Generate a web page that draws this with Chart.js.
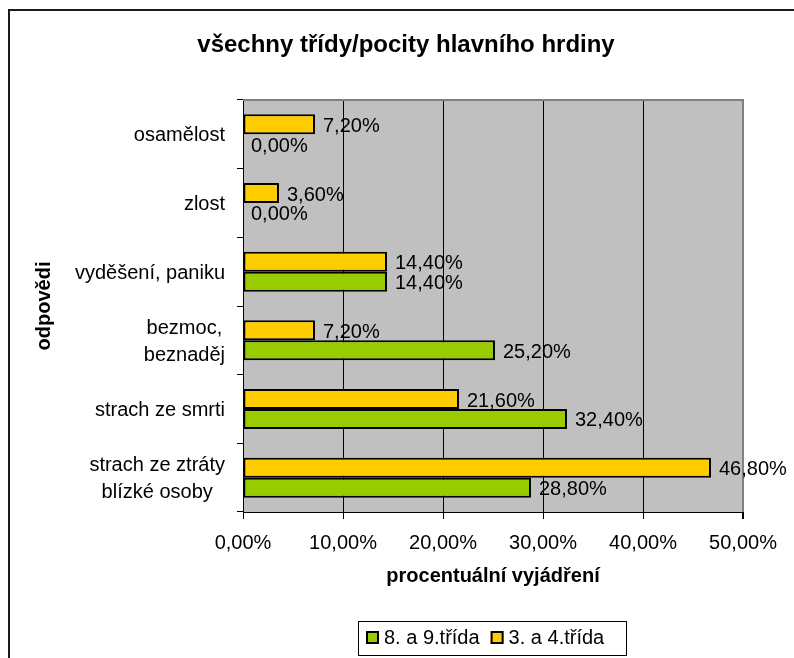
<!DOCTYPE html>
<html>
<head>
<meta charset="utf-8">
<script src="https://cdn.jsdelivr.net/npm/chart.js@4"></script>
<style>
    body { margin: 0; background: #fff; }
    canvas { display: block; }
</style>
</head>
<body>
<canvas id="chart" width="794" height="658"></canvas>
<script>
// data
const categories = [
    ['osamělost'],
    ['zlost'],
    ['vyděšení, paniku'],
    ['bezmoc,', 'beznaděj'],
    ['strach ze smrti'],
    ['strach ze ztráty', 'blízké osoby']
];
const seriesNames = ['3. a 4.třída', '8. a 9.třída'];
const grade34 = [7.2, 3.6, 14.4, 7.2, 21.6, 46.8];
const grade89 = [0, 0, 14.4, 25.2, 32.4, 28.8];
const xTickValues = [0, 10, 20, 30, 40, 50];

const chartTitle = 'všechny třídy/pocity hlavního hrdiny';
const xTitle = 'procentuální vyjádření';
const yTitle = 'odpovědi';

const FONT = "'Liberation Sans', Arial, sans-serif";

// 7.2 -> "7,20%"
function formatPct(v) {
    return v.toFixed(2).replace('.', ',') + '%';
}

// gray plot area + frame + titles
const decorPlugin = {
    id: 'decor',
    beforeDraw(chart) {
        const ctx = chart.ctx;
        const a = chart.chartArea;
        ctx.save();
        ctx.fillStyle = '#C0C0C0';
        ctx.fillRect(a.left, a.top, a.right - a.left, a.bottom - a.top);

        // outer frame (only left and top are visible)
        ctx.strokeStyle = '#1a1a1a';
        ctx.lineWidth = 2;
        ctx.beginPath();
        ctx.moveTo(9, 658);
        ctx.lineTo(9, 10);
        ctx.lineTo(794, 10);
        ctx.stroke();
        ctx.restore();
    },
    beforeDatasetsDraw(chart) {
        const ctx = chart.ctx;
        const a = chart.chartArea;
        ctx.save();
        ctx.strokeStyle = '#808080';
        ctx.lineWidth = 2;
        ctx.beginPath();
        ctx.moveTo(a.left, a.top);
        ctx.lineTo(a.right + 1, a.top);
        ctx.stroke();
        ctx.restore();
    },
    afterDraw(chart) {
        const ctx = chart.ctx;
        const a = chart.chartArea;
        ctx.save();
        ctx.fillStyle = '#000';
        ctx.textBaseline = 'alphabetic';

        // chart title
        ctx.font = 'bold 24px ' + FONT;
        ctx.textAlign = 'center';
        ctx.fillText(chartTitle, 406, 52);

        // x axis title
        ctx.font = 'bold 20px ' + FONT;
        ctx.fillText(xTitle, (a.left + a.right) / 2, 582);

        // y axis title
        ctx.save();
        ctx.translate(49.5, (a.top + a.bottom) / 2);
        ctx.rotate(-Math.PI / 2);
        ctx.fillText(yTitle, 0, 0);
        ctx.restore();

        // category labels: block right-aligned, lines centered inside the block
        ctx.font = '20px ' + FONT;
        const yScale = chart.scales.y;
        const lineGap = 26.5;
        categories.forEach((lines, i) => {
            const cy = yScale.getPixelForValue(i);
            let maxW = 0;
            lines.forEach(l => { maxW = Math.max(maxW, ctx.measureText(l).width); });
            const cx = 225 - maxW / 2;
            const first = cy + 7 - (lines.length - 1) * lineGap / 2;
            lines.forEach((l, k) => {
                ctx.fillText(l, cx, first + k * lineGap);
            });
        });

        // legend (8. a 9.třída first)
        ctx.strokeStyle = '#000';
        ctx.lineWidth = 1;
        ctx.strokeRect(358.5, 621.5, 268, 34);
        ctx.textAlign = 'left';
        let x = 366;
        const order = chart.data.datasets.map((d, i) => i).reverse();
        order.forEach(i => {
            const ds = chart.data.datasets[i];
            ctx.fillStyle = ds.backgroundColor;
            ctx.fillRect(x, 631, 13, 13);
            ctx.lineWidth = 2;
            ctx.strokeRect(x + 1, 632, 11, 11);
            ctx.fillStyle = '#000';
            ctx.fillText(ds.label, x + 18, 644);
            x += 18 + ctx.measureText(ds.label).width + 11;
        });
        ctx.restore();
    }
};

// value labels right of each bar
const valueLabels = {
    id: 'valueLabels',
    afterDatasetsDraw(chart) {
        const ctx = chart.ctx;
        ctx.save();
        ctx.font = '20px ' + FONT;
        ctx.fillStyle = '#000';
        ctx.textAlign = 'left';
        ctx.textBaseline = 'alphabetic';
        chart.data.datasets.forEach((ds, i) => {
            chart.getDatasetMeta(i).data.forEach((bar, j) => {
                ctx.fillText(formatPct(ds.data[j]), bar.x + 8, bar.y + 7.5);
            });
        });
        ctx.restore();
    }
};

Chart.defaults.font.family = FONT;
Chart.defaults.font.size = 20;
Chart.defaults.color = '#000';

const ctx = document.getElementById('chart').getContext('2d');
const chart = new Chart(ctx, {
    type: 'bar',
    data: {
        labels: categories,
        datasets: [{
            label: seriesNames[0],
            data: grade34,
            backgroundColor: '#FFCC00',
            borderColor: '#000',
            borderWidth: 2,
            borderSkipped: false,
            barPercentage: 1,
            categoryPercentage: 0.5825
        }, {
            label: seriesNames[1],
            data: grade89,
            backgroundColor: '#99CC00',
            borderColor: '#000',
            borderWidth: 2,
            borderSkipped: false,
            barPercentage: 1,
            categoryPercentage: 0.5825
        }]
    },
    options: {
        indexAxis: 'y',
        responsive: false,
        animation: false,
        devicePixelRatio: 1,
        layout: {
            padding: { top: 100, right: 51, left: 0, bottom: 0 }
        },
        plugins: {
            legend: { display: false },
            title: { display: false },
            tooltip: { enabled: false }
        },
        scales: {
            x: {
                min: xTickValues[0],
                max: xTickValues[xTickValues.length - 1],
                afterBuildTicks: function(scale) {
                    scale.ticks = xTickValues.map(v => ({ value: v }));
                },
                afterFit: function(scale) {
                    scale.height = 146;
                    scale.paddingLeft = 0;
                    scale.paddingRight = 0;
                },
                grid: {
                    color: c => (c.tick && c.tick.value === 50) ? '#808080' : '#000',
                    lineWidth: c => (c.tick && c.tick.value === 50) ? 2 : 1,
                    tickColor: '#000',
                    tickLength: 7
                },
                border: { color: '#000', width: 1 },
                ticks: {
                    padding: 12,
                    maxRotation: 0,
                    callback: v => formatPct(v)
                }
            },
            y: {
                afterFit: function(scale) {
                    scale.width = 243;
                    scale.paddingTop = 0;
                    scale.paddingBottom = 0;
                },
                grid: {
                    drawOnChartArea: false,
                    color: '#000',
                    tickLength: 6
                },
                border: { color: '#000', width: 1 },
                ticks: { display: false }
            }
        }
    },
    plugins: [decorPlugin, valueLabels]
});
</script>
</body>
</html>
